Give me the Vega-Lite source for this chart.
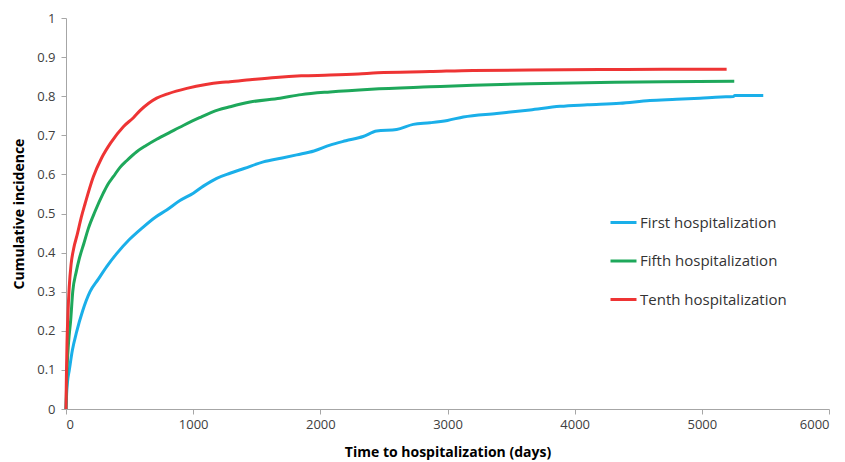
{
  "$schema": "https://vega.github.io/schema/vega-lite/v6.json",
  "width": 763,
  "height": 391,
  "autosize": "none",
  "padding": {"left": 66, "top": 18, "right": 16, "bottom": 53},
  "background": "white",
  "config": {
    "view": {"stroke": null},
    "font": "Open Sans",
    "axis": {"grid": false, "domainColor": "#a6a6a6", "tickColor": "#a6a6a6", "tickSize": 5, "labelFontSize": 13, "labelColor": "#404040", "titleFontSize": 14, "titleFontWeight": "bold", "titleColor": "#000000", "labelFont": "Open Sans", "titleFont": "Open Sans"}
  },
  "data": {"values": [
    {"s": "First hospitalization", "t": 0, "v": 0},
    {"s": "First hospitalization", "t": 5, "v": 0.04},
    {"s": "First hospitalization", "t": 12, "v": 0.07},
    {"s": "First hospitalization", "t": 26, "v": 0.1},
    {"s": "First hospitalization", "t": 50, "v": 0.15},
    {"s": "First hospitalization", "t": 84, "v": 0.198},
    {"s": "First hospitalization", "t": 130, "v": 0.25},
    {"s": "First hospitalization", "t": 189, "v": 0.3},
    {"s": "First hospitalization", "t": 254, "v": 0.332},
    {"s": "First hospitalization", "t": 320, "v": 0.364},
    {"s": "First hospitalization", "t": 395, "v": 0.396},
    {"s": "First hospitalization", "t": 500, "v": 0.434},
    {"s": "First hospitalization", "t": 595, "v": 0.462},
    {"s": "First hospitalization", "t": 700, "v": 0.49},
    {"s": "First hospitalization", "t": 792, "v": 0.509},
    {"s": "First hospitalization", "t": 896, "v": 0.533},
    {"s": "First hospitalization", "t": 1001, "v": 0.552},
    {"s": "First hospitalization", "t": 1080, "v": 0.57},
    {"s": "First hospitalization", "t": 1185, "v": 0.59},
    {"s": "First hospitalization", "t": 1290, "v": 0.603},
    {"s": "First hospitalization", "t": 1400, "v": 0.615},
    {"s": "First hospitalization", "t": 1552, "v": 0.632},
    {"s": "First hospitalization", "t": 1700, "v": 0.642},
    {"s": "First hospitalization", "t": 1814, "v": 0.65},
    {"s": "First hospitalization", "t": 1950, "v": 0.66},
    {"s": "First hospitalization", "t": 2076, "v": 0.675},
    {"s": "First hospitalization", "t": 2200, "v": 0.686},
    {"s": "First hospitalization", "t": 2337, "v": 0.697},
    {"s": "First hospitalization", "t": 2443, "v": 0.711},
    {"s": "First hospitalization", "t": 2600, "v": 0.715},
    {"s": "First hospitalization", "t": 2731, "v": 0.728},
    {"s": "First hospitalization", "t": 2862, "v": 0.732},
    {"s": "First hospitalization", "t": 3000, "v": 0.738},
    {"s": "First hospitalization", "t": 3124, "v": 0.747},
    {"s": "First hospitalization", "t": 3387, "v": 0.756},
    {"s": "First hospitalization", "t": 3649, "v": 0.765},
    {"s": "First hospitalization", "t": 3885, "v": 0.774},
    {"s": "First hospitalization", "t": 4100, "v": 0.778},
    {"s": "First hospitalization", "t": 4356, "v": 0.782},
    {"s": "First hospitalization", "t": 4592, "v": 0.789},
    {"s": "First hospitalization", "t": 4800, "v": 0.792},
    {"s": "First hospitalization", "t": 4985, "v": 0.795},
    {"s": "First hospitalization", "t": 5150, "v": 0.798},
    {"s": "First hospitalization", "t": 5247, "v": 0.799},
    {"s": "First hospitalization", "t": 5260, "v": 0.802},
    {"s": "First hospitalization", "t": 5483, "v": 0.802},
    {"s": "Fifth hospitalization", "t": 0, "v": 0},
    {"s": "Fifth hospitalization", "t": 8, "v": 0.1},
    {"s": "Fifth hospitalization", "t": 20, "v": 0.17},
    {"s": "Fifth hospitalization", "t": 37, "v": 0.228},
    {"s": "Fifth hospitalization", "t": 53, "v": 0.3},
    {"s": "Fifth hospitalization", "t": 80, "v": 0.35},
    {"s": "Fifth hospitalization", "t": 105, "v": 0.385},
    {"s": "Fifth hospitalization", "t": 141, "v": 0.424},
    {"s": "Fifth hospitalization", "t": 176, "v": 0.462},
    {"s": "Fifth hospitalization", "t": 228, "v": 0.505},
    {"s": "Fifth hospitalization", "t": 293, "v": 0.552},
    {"s": "Fifth hospitalization", "t": 330, "v": 0.575},
    {"s": "Fifth hospitalization", "t": 372, "v": 0.594},
    {"s": "Fifth hospitalization", "t": 425, "v": 0.618},
    {"s": "Fifth hospitalization", "t": 477, "v": 0.635},
    {"s": "Fifth hospitalization", "t": 556, "v": 0.658},
    {"s": "Fifth hospitalization", "t": 630, "v": 0.674},
    {"s": "Fifth hospitalization", "t": 713, "v": 0.69},
    {"s": "Fifth hospitalization", "t": 820, "v": 0.708},
    {"s": "Fifth hospitalization", "t": 922, "v": 0.725},
    {"s": "Fifth hospitalization", "t": 1050, "v": 0.745},
    {"s": "Fifth hospitalization", "t": 1198, "v": 0.765},
    {"s": "Fifth hospitalization", "t": 1290, "v": 0.773},
    {"s": "Fifth hospitalization", "t": 1447, "v": 0.785},
    {"s": "Fifth hospitalization", "t": 1683, "v": 0.795},
    {"s": "Fifth hospitalization", "t": 1850, "v": 0.804},
    {"s": "Fifth hospitalization", "t": 2076, "v": 0.811},
    {"s": "Fifth hospitalization", "t": 2400, "v": 0.818},
    {"s": "Fifth hospitalization", "t": 2862, "v": 0.824},
    {"s": "Fifth hospitalization", "t": 3200, "v": 0.828},
    {"s": "Fifth hospitalization", "t": 3649, "v": 0.832},
    {"s": "Fifth hospitalization", "t": 4200, "v": 0.835},
    {"s": "Fifth hospitalization", "t": 4700, "v": 0.837},
    {"s": "Fifth hospitalization", "t": 5255, "v": 0.838},
    {"s": "Tenth hospitalization", "t": 0, "v": 0},
    {"s": "Tenth hospitalization", "t": 3, "v": 0.08},
    {"s": "Tenth hospitalization", "t": 8, "v": 0.17},
    {"s": "Tenth hospitalization", "t": 15, "v": 0.24},
    {"s": "Tenth hospitalization", "t": 25, "v": 0.31},
    {"s": "Tenth hospitalization", "t": 40, "v": 0.37},
    {"s": "Tenth hospitalization", "t": 60, "v": 0.41},
    {"s": "Tenth hospitalization", "t": 89, "v": 0.447},
    {"s": "Tenth hospitalization", "t": 120, "v": 0.49},
    {"s": "Tenth hospitalization", "t": 150, "v": 0.525},
    {"s": "Tenth hospitalization", "t": 215, "v": 0.594},
    {"s": "Tenth hospitalization", "t": 280, "v": 0.642},
    {"s": "Tenth hospitalization", "t": 350, "v": 0.68},
    {"s": "Tenth hospitalization", "t": 451, "v": 0.722},
    {"s": "Tenth hospitalization", "t": 530, "v": 0.745},
    {"s": "Tenth hospitalization", "t": 582, "v": 0.763},
    {"s": "Tenth hospitalization", "t": 650, "v": 0.782},
    {"s": "Tenth hospitalization", "t": 713, "v": 0.795},
    {"s": "Tenth hospitalization", "t": 800, "v": 0.806},
    {"s": "Tenth hospitalization", "t": 950, "v": 0.82},
    {"s": "Tenth hospitalization", "t": 1100, "v": 0.83},
    {"s": "Tenth hospitalization", "t": 1211, "v": 0.835},
    {"s": "Tenth hospitalization", "t": 1290, "v": 0.837},
    {"s": "Tenth hospitalization", "t": 1447, "v": 0.842},
    {"s": "Tenth hospitalization", "t": 1650, "v": 0.848},
    {"s": "Tenth hospitalization", "t": 1850, "v": 0.852},
    {"s": "Tenth hospitalization", "t": 2076, "v": 0.854},
    {"s": "Tenth hospitalization", "t": 2300, "v": 0.857},
    {"s": "Tenth hospitalization", "t": 2450, "v": 0.86},
    {"s": "Tenth hospitalization", "t": 2862, "v": 0.863},
    {"s": "Tenth hospitalization", "t": 3200, "v": 0.866},
    {"s": "Tenth hospitalization", "t": 3649, "v": 0.867},
    {"s": "Tenth hospitalization", "t": 4200, "v": 0.868},
    {"s": "Tenth hospitalization", "t": 4700, "v": 0.869},
    {"s": "Tenth hospitalization", "t": 5195, "v": 0.869}
  ]},
  "mark": {"type": "line", "strokeWidth": 3, "interpolate": "monotone"},
  "encoding": {
    "x": {"field": "t", "type": "quantitative", "scale": {"domain": [0, 6000], "nice": false}, "axis": {"values": [0, 1000, 2000, 3000, 4000, 5000, 6000], "format": "d", "title": "Time to hospitalization (days)", "titlePadding": 14, "labelPadding": 4}},
    "y": {"field": "v", "type": "quantitative", "scale": {"domain": [0, 1], "nice": false}, "axis": {"values": [0, 0.1, 0.2, 0.3, 0.4, 0.5, 0.6, 0.7, 0.8, 0.9, 1], "format": "~g", "title": "Cumulative incidence", "titlePadding": 10, "labelPadding": 6}},
    "color": {"field": "s", "type": "nominal", "sort": null,
      "scale": {"domain": ["First hospitalization", "Fifth hospitalization", "Tenth hospitalization"], "range": ["#1AAFE9", "#1EA85B", "#EE3434"]},
      "legend": {"title": null, "orient": "none", "legendX": 543, "legendY": 190, "symbolType": "stroke", "symbolSize": 676, "symbolStrokeWidth": 3, "labelFontSize": 15, "labelColor": "#333333", "labelFont": "Open Sans", "rowPadding": 15.5, "labelOffset": 2}
    }
  }
}
